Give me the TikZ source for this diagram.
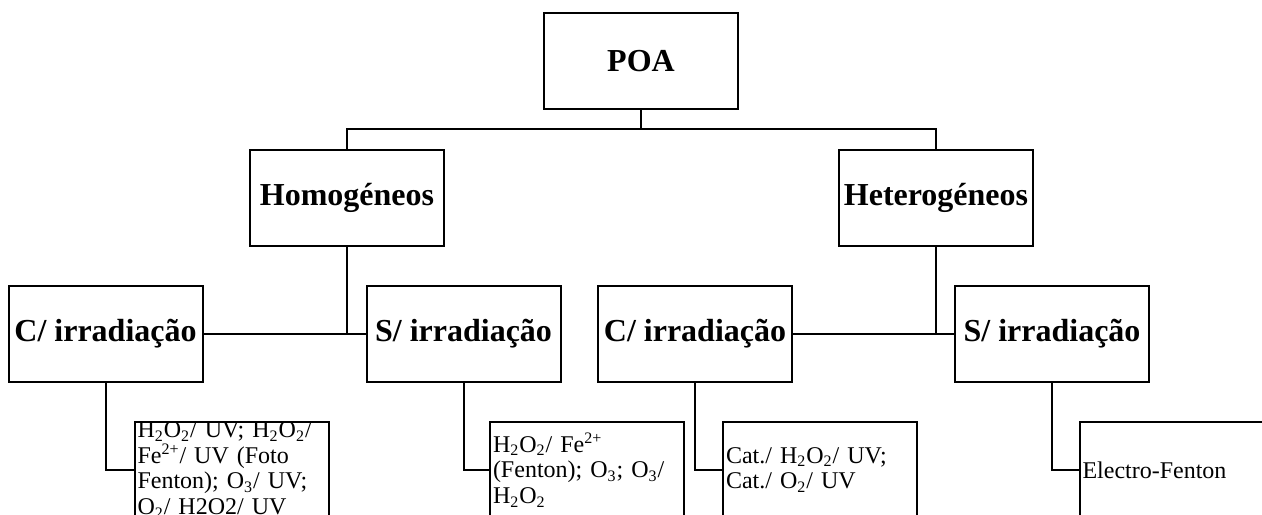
\documentclass[tikz,border=0pt]{standalone}
\usepackage{fontspec}
\setmainfont{Liberation Serif}
\begin{document}
\begin{tikzpicture}[x=0.5pt,y=-0.5pt,line width=1pt,
  box/.style={draw,minimum width=97pt,minimum height=48pt,inner sep=0pt,
    font=\fontsize{16}{19}\selectfont\bfseries},
  leaf/.style={draw,text width=94pt,minimum height=48pt,inner xsep=1.5pt,
    inner ysep=0pt,align=left,font=\fontsize{12}{12.8}\selectfont}]
{\centering
\useasboundingbox (0,0) rectangle (1262,514);

\node[box] (poa) at (641, 61)    {POA};
\node[box] (hom) at (347, 198)   {Homogéneos};
\node[box] (het) at (936, 198)   {Heterogéneos};

\node[box] (homc) at (105.5, 334) {C/ irradiação};
\node[box] (homs) at (463.5, 334) {S/ irradiação};
\node[box] (hetc) at (695, 334)   {C/ irradiação};
\node[box] (hets) at (1052, 334)  {S/ irradiação};

\node[leaf] (homcl) at (231.5, 470) {H\textsubscript{2}O\textsubscript{2}/ UV; H\textsubscript{2}O\textsubscript{2}/\\
  Fe\textsuperscript{2+}/ UV (Foto\\
  Fenton); O\textsubscript{3}/ UV;\\
  O\textsubscript{2}/ H2O2/ UV};
\node[leaf] (homsl) at (587, 470) {H\textsubscript{2}O\textsubscript{2}/ Fe\textsuperscript{2+}\\
  (Fenton); O\textsubscript{3}; O\textsubscript{3}/\\
  H\textsubscript{2}O\textsubscript{2}};
\node[leaf] (hetcl) at (820, 470) {Cat./ H\textsubscript{2}O\textsubscript{2}/ UV;\\
  Cat./ O\textsubscript{2}/ UV};
\node[leaf] (hetsl) at (1176.5, 470) {Electro-Fenton};

\coordinate (top) at (641, 129);

\draw (poa.south) -- (top);
\draw (hom.north) |- (top) -| (het.north);

\draw (homc.east) -- (homs.west);
\draw (hom.south) -- (hom.south |- homc.east);
\draw (hetc.east) -- (hets.west);
\draw (het.south) -- (het.south |- hetc.east);

\draw (homc.south) |- (homcl.west);
\draw (homs.south) |- (homsl.west);
\draw (hetc.south) |- (hetcl.west);
\draw (hets.south) |- (hetsl.west);

}
\end{tikzpicture}
\end{document}
